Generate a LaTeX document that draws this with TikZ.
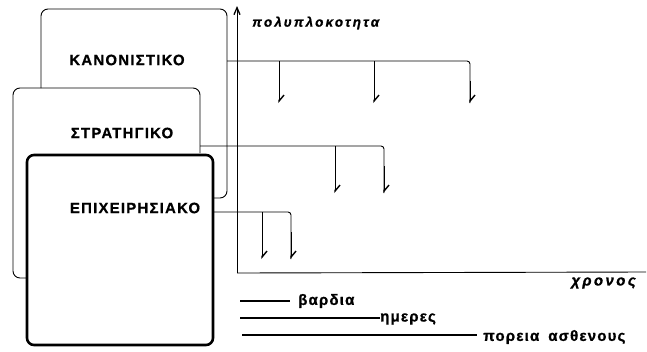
\documentclass[tikz,border=0pt]{standalone}
\usepackage{fontspec}
\setmainfont{Liberation Sans}
\newfontfamily\boxfont[LetterSpace=8,FakeBold=0.6]{Liberation Sans Bold}
\newfontfamily\axfont[LetterSpace=16,FakeBold=1]{Liberation Sans Bold Italic}
\newfontfamily\legfont[LetterSpace=8,FakeBold=1]{Liberation Sans Bold}
\usetikzlibrary{arrows.meta}
\begin{document}
\begin{tikzpicture}[x=1pt,y=-1pt,
  thinline/.style={line width=0.9pt,line join=round},
  thickbox/.style={line width=2.6pt,rounded corners=7pt},
  boxlabel/.style={font=\boxfont\fontsize{15}{17}\selectfont,inner sep=0pt},
  axlabel/.style={font=\axfont\fontsize{13.5}{15}\selectfont,inner sep=0pt},
  leglabel/.style={font=\legfont\fontsize{15}{17}\selectfont,inner sep=0pt,anchor=west},
  branch/.style={thinline,rounded corners=3pt},
  drop/.style={thinline,-{Straight Barb[left,length=6pt,width=10pt,line width=1.4pt]}},
  legline/.style={line width=1.8pt}]
\useasboundingbox (0,0) rectangle (647,351);
\fill[white] (0,0) rectangle (647,351);
% boxes
\draw[thinline,rounded corners=7pt] (41,88) -- (41,9) -- (227,9) -- (227,198) -- (214,198);
\draw[thinline,rounded corners=7pt] (200,153) -- (200,88) -- (13,88) -- (13,278) -- (28,278);
\draw[thickbox,fill=white] (27,155) rectangle (213,345);
\node[boxlabel] (kan) at (127,60) {ΚΑΝΟΝΙΣΤΙΚΟ};
\node[boxlabel] (str) at (122,133) {ΣΤΡΑΤΗΓΙΚΟ};
\node[boxlabel] (epi) at (135,208) {ΕΠΙΧΕΙΡΗΣΙΑΚΟ};
% axes
\coordinate (o) at (237,273);
\coordinate (ytop) at (237,6);
\coordinate (xend) at (646,272);
\draw[thinline,-{Straight Barb[length=7pt,width=6pt,line width=1.3pt]}] (o) -- (ytop);
\draw[thinline] (o) -- (xend);
\node[axlabel,anchor=west] (ylab) at (252,23) {πολυπλοκοτητα};
\node[axlabel,anchor=east,font=\axfont\fontsize{15}{17}\selectfont] (xlab) at (636,283) {χρονος};
% branch 1
\coordinate (b1s) at (227,61);
\coordinate (b1a) at (279,61);
\coordinate (b1b) at (374,61);
\coordinate (b1c) at (470,61);
\coordinate (b1at) at (279,103);
\coordinate (b1bt) at (374,103);
\coordinate (b1ct) at (470,103);
\draw[branch] (b1s) -- (b1c) -- (b1ct);
\draw[drop] (b1a) -- (b1at);
\draw[drop] (b1b) -- (b1bt);
\draw[drop] (b1c) ++(0,20) -- (b1ct);
% branch 2
\coordinate (b2s) at (200,146);
\coordinate (b2a) at (335,146);
\coordinate (b2b) at (384,146);
\coordinate (b2at) at (335,193);
\coordinate (b2bt) at (384,193);
\draw[branch] (b2s) -- (b2b) -- (b2bt);
\draw[drop] (b2a) -- (b2at);
\draw[drop] (b2b) ++(0,20) -- (b2bt);
% branch 3
\coordinate (b3s) at (213,212);
\coordinate (b3a) at (262,212);
\coordinate (b3b) at (291,212);
\coordinate (b3at) at (262,259);
\coordinate (b3bt) at (291,259);
\draw[branch] (b3s) -- (b3b) -- (b3bt);
\draw[drop] (b3a) -- (b3at);
\draw[drop] (b3b) ++(0,20) -- (b3bt);
% legend
\node[leglabel] (l1) at (298,301) {βαρδια};
\node[leglabel] (l2) at (380,319) {ημερες};
\node[leglabel] (l3) at (483,337) {πορεια\hspace{0.6em}ασθενους};
\coordinate (l1s) at (240,301);
\coordinate (l1e) at (290,301);
\coordinate (l2s) at (240,318);
\coordinate (l3s) at (242,335);
\coordinate (l3e) at (477,335);
\draw[legline] (l1s) -- (l1e);
\draw[legline] (l2s) -- (l2s -| l2.west);
\draw[legline] (l3s) -- (l3e);
\end{tikzpicture}
\end{document}
